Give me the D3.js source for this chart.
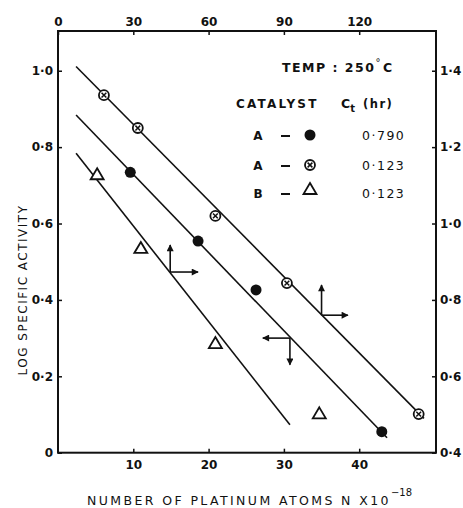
<!DOCTYPE html>
<html>
<head>
<meta charset="utf-8">
<script src="https://cdn.jsdelivr.net/npm/d3@7"></script>
<style>
  body { margin: 0; background: #fff; }
  text { font-family: "DejaVu Sans", sans-serif; fill: #111; }
</style>
</head>
<body>
<svg id="chart" width="463" height="508"></svg>
<script>
// tick values
const xBottomTicks = [10, 20, 30, 40];
const xTopTicks = [0, 30, 60, 90, 120];
const yLeftTicks = [0, 0.2, 0.4, 0.6, 0.8, 1.0];
const yRightTicks = [0.4, 0.6, 0.8, 1.0, 1.2, 1.4];

// catalyst A, Ct 0.790 (filled circles)
const filledX = [9.6, 18.6, 26.3, 43.0];
const filledY = [0.734, 0.554, 0.426, 0.055];
// catalyst A, Ct 0.123 (crossed circles)
const crossedX = [6.1, 10.6, 20.9, 30.4, 47.9];
const crossedY = [0.936, 0.85, 0.62, 0.444, 0.101];
// catalyst B, Ct 0.123 (triangles)
const triX = [5.2, 11.0, 20.9, 34.7];
const triY = [0.729, 0.536, 0.287, 0.103];

// fitted lines [x1, y1, x2, y2]
const lineCrossed = [2.4, 1.011, 48.6, 0.09];
const lineFilled = [2.4, 0.884, 43.7, 0.039];
const lineTri = [2.4, 0.784, 30.8, 0.073];

// axis-direction arrows: corner, vertical tip, horizontal tip
const arrows = [
  { x: 14.9, y: 0.473, ty: 0.544, tx: 18.6 },
  { x: 35.0, y: 0.36, ty: 0.439, tx: 38.5 },
  { x: 30.8, y: 0.3, ty: 0.23, tx: 27.2 }
];

const svg = d3.select("#chart");
const mLeft = 58, mRight = 436, mTop = 31, mBottom = 452.7;

const x = d3.scaleLinear().domain([0, 50.2]).range([mLeft, mRight]);
const xTop = d3.scaleLinear().domain([0, 150.6]).range([mLeft, mRight]);
const y = d3.scaleLinear().domain([0, 1.104]).range([mBottom, mTop]);
const yRight = d3.scaleLinear().domain([0.4, 1.504]).range([mBottom, mTop]);

const fmt = (d) => (d === 0 ? "0" : d3.format(".1f")(d).replace(".", "\u00b7"));

function styleAxis(g) {
  g.select(".domain").remove();
  g.selectAll(".tick line").attr("stroke", "#111").attr("stroke-width", 1.5);
  g.selectAll(".tick text")
    .style("font-family", "DejaVu Sans")
    .style("font-weight", "bold")
    .style("font-size", "12px")
    .attr("fill", "#111");
}

svg.append("g")
  .attr("transform", `translate(0,${mBottom})`)
  .call(d3.axisBottom(x).tickValues(xBottomTicks).tickSize(-4).tickPadding(8).tickFormat(d3.format("d")))
  .call(styleAxis);

svg.append("g")
  .attr("transform", `translate(0,${mTop})`)
  .call(d3.axisTop(xTop).tickValues(xTopTicks).tickSize(-4).tickPadding(5).tickFormat(d3.format("d")))
  .call(styleAxis);

svg.append("g")
  .attr("transform", `translate(${mLeft},0)`)
  .call(d3.axisLeft(y).tickValues(yLeftTicks).tickSize(-4).tickPadding(5).tickFormat(fmt))
  .call(styleAxis);

svg.append("g")
  .attr("transform", `translate(${mRight},0)`)
  .call(d3.axisRight(yRight).tickValues(yRightTicks).tickSize(-4).tickPadding(4).tickFormat(fmt))
  .call(styleAxis);

// frame
svg.append("rect")
  .attr("x", mLeft).attr("y", mTop)
  .attr("width", mRight - mLeft).attr("height", mBottom - mTop)
  .attr("fill", "none").attr("stroke", "#111").attr("stroke-width", 2);

// arrow head marker
svg.append("defs").append("marker")
  .attr("id", "head")
  .attr("viewBox", "0 0 10 10")
  .attr("refX", 9).attr("refY", 5)
  .attr("markerWidth", 9).attr("markerHeight", 7)
  .attr("markerUnits", "userSpaceOnUse")
  .attr("orient", "auto")
  .append("path").attr("d", "M0,0 L10,5 L0,10 Z").attr("fill", "#111");

// fitted lines
[lineCrossed, lineFilled, lineTri].forEach((l) => {
  svg.append("line")
    .attr("x1", x(l[0])).attr("y1", y(l[1]))
    .attr("x2", x(l[2])).attr("y2", y(l[3]))
    .attr("stroke", "#111").attr("stroke-width", 1.6);
});

// arrows
arrows.forEach((a) => {
  svg.append("line")
    .attr("x1", x(a.x)).attr("y1", y(a.y))
    .attr("x2", x(a.x)).attr("y2", y(a.ty))
    .attr("stroke", "#111").attr("stroke-width", 1.6)
    .attr("marker-end", "url(#head)");
  svg.append("line")
    .attr("x1", x(a.x)).attr("y1", y(a.y))
    .attr("x2", x(a.tx)).attr("y2", y(a.y))
    .attr("stroke", "#111").attr("stroke-width", 1.6)
    .attr("marker-end", "url(#head)");
});

// marker drawers
function drawFilled(g, cx, cy) {
  g.append("circle").attr("cx", cx).attr("cy", cy).attr("r", 5.5).attr("fill", "#111");
}
function drawCrossed(g, cx, cy) {
  g.append("circle").attr("cx", cx).attr("cy", cy).attr("r", 5)
    .attr("fill", "#fff").attr("stroke", "#111").attr("stroke-width", 1.8);
  const s = 2.4;
  g.append("path")
    .attr("d", `M${cx - s},${cy - s}L${cx + s},${cy + s}M${cx - s},${cy + s}L${cx + s},${cy - s}`)
    .attr("stroke", "#111").attr("stroke-width", 1.5);
}
function drawTri(g, cx, cy) {
  const w = 6.5, h = 10;
  g.append("path")
    .attr("d", `M${cx},${cy - h / 2 - 1}L${cx + w},${cy + h / 2}L${cx - w},${cy + h / 2}Z`)
    .attr("fill", "#fff").attr("stroke", "#111").attr("stroke-width", 1.8)
    .attr("stroke-linejoin", "miter");
}

const pts = svg.append("g");
filledX.forEach((v, i) => drawFilled(pts, x(v), y(filledY[i])));
crossedX.forEach((v, i) => drawCrossed(pts, x(v), y(crossedY[i])));
triX.forEach((v, i) => drawTri(pts, x(v), y(triY[i])));

// legend / annotation
const legendFont = (t, size) => t.style("font-weight", "bold").style("font-size", size + "px");

const temp = svg.append("text").attr("x", 282).attr("y", 72).call(legendFont, 12.5)
  .style("letter-spacing", "1.5px");
temp.append("tspan").text("TEMP : 250");
temp.append("tspan").text("\u00b0").attr("dx", 0).attr("dy", -6).style("font-size", "10px").style("font-weight", "normal");
temp.append("tspan").text("C").attr("dx", 1).attr("dy", 6);

svg.append("text").attr("x", 236).attr("y", 108).text("CATALYST").call(legendFont, 12)
  .style("letter-spacing", "2.2px");
const ct = svg.append("text").attr("x", 341).attr("y", 108).call(legendFont, 12.5);
ct.append("tspan").text("C");
ct.append("tspan").text("t").attr("dy", 4).style("font-size", "10px");
ct.append("tspan").text("(hr)").attr("dx", 8).attr("dy", -4).style("font-size", "11.5px")
  .style("letter-spacing", "1.5px");

const legendRows = [
  { cat: "A", kind: "filled", val: "0\u00b7790" },
  { cat: "A", kind: "crossed", val: "0\u00b7123" },
  { cat: "B", kind: "tri", val: "0\u00b7123" }
];
const rowY = [135, 165, 193];
legendRows.forEach((r, i) => {
  const cy = rowY[i];
  svg.append("text").attr("x", 258).attr("y", cy + 4.5).attr("text-anchor", "middle").text(r.cat).call(legendFont, 12);
  svg.append("line").attr("x1", 281).attr("x2", 290).attr("y1", cy + 1).attr("y2", cy + 1)
    .attr("stroke", "#111").attr("stroke-width", 2);
  if (r.kind === "filled") drawFilled(svg, 310, cy);
  else if (r.kind === "crossed") drawCrossed(svg, 310, cy);
  else drawTri(svg, 310, cy - 4);
  svg.append("text").attr("x", 362).attr("y", cy + 5).text(r.val).call(legendFont, 12.5)
    .style("font-weight", "normal").style("letter-spacing", "1.5px");
});

// axis titles
svg.append("text")
  .attr("transform", `translate(27,${290}) rotate(-90)`)
  .attr("text-anchor", "middle")
  .style("font-size", "12px")
  .style("letter-spacing", "1.5px")
  .text("LOG SPECIFIC ACTIVITY");

const xt = svg.append("text").attr("x", 87).attr("y", 505)
  .style("font-size", "12.5px").style("letter-spacing", "2.4px");
xt.append("tspan").text("NUMBER OF PLATINUM ATOMS  N X10");
xt.append("tspan").text("\u221218").attr("dy", -9).style("font-size", "10px").style("letter-spacing", "0px");
</script>
</body>
</html>
